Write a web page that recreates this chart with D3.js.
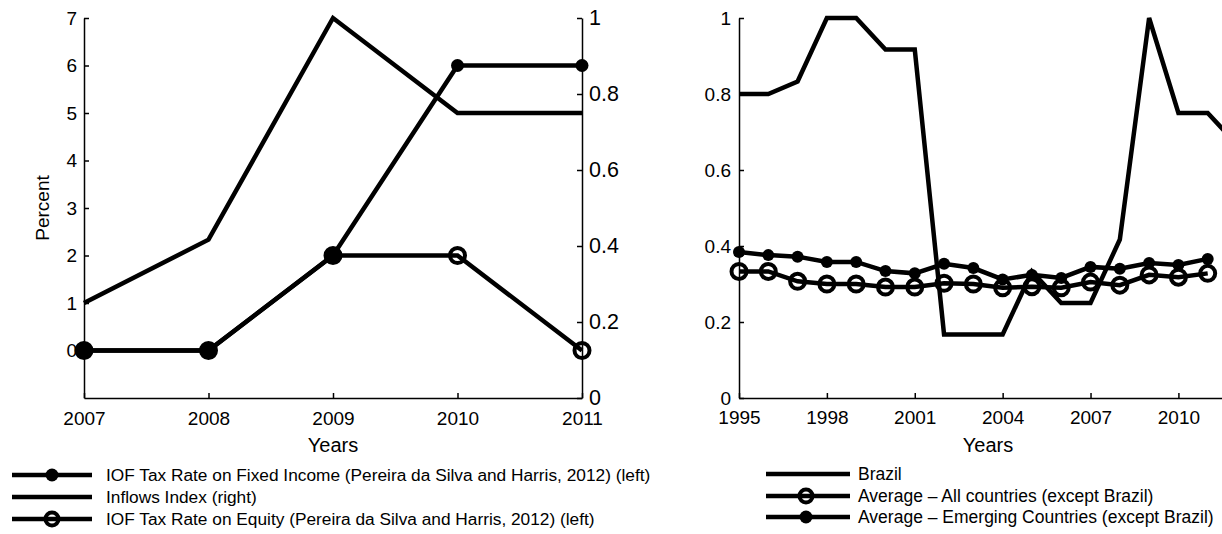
<!DOCTYPE html>
<html><head><meta charset="utf-8">
<script src="https://cdn.jsdelivr.net/npm/d3@7"></script>
<style>
body{margin:0;background:#fff;}
svg{display:block;font-family:"Liberation Sans",Arial,Helvetica,sans-serif;}
</style></head>
<body>
<svg id="chart" width="1222" height="534"></svg>
<script>
// ---- Left panel data ----
const leftYears = [2007, 2008, 2009, 2010, 2011];
const fixedIncome = [0, 0, 2, 6, 6];          // percent (left)
const inflowsIndex = [0.25, 0.4167, 1, 0.75, 0.75]; // index (right)
const equity = [0, 0, 2, 2, 0];               // percent (left)
const leftYTicks = [0, 1, 2, 3, 4, 5, 6, 7];
const rightYTicks = [0, 0.2, 0.4, 0.6, 0.8, 1];
const leftLegend = [
  "IOF Tax Rate on Fixed Income (Pereira da Silva and Harris, 2012) (left)",
  "Inflows Index (right)",
  "IOF Tax Rate on Equity (Pereira da Silva and Harris, 2012) (left)"
];

// ---- Right panel data ----
const brazilYears = [1995,1996,1997,1998,1999,2000,2001,2002,2003,2004,2005,2006,2007,2008,2009,2010,2011,2012];
const brazil = [0.8,0.8,0.833,1,1,0.917,0.917,0.167,0.167,0.167,0.333,0.25,0.25,0.417,1,0.75,0.75,0.667];
const avgYears = [1995,1996,1997,1998,1999,2000,2001,2002,2003,2004,2005,2006,2007,2008,2009,2010,2011];
const avgAll = [0.333,0.333,0.307,0.300,0.300,0.292,0.292,0.302,0.300,0.290,0.293,0.290,0.305,0.297,0.324,0.318,0.328];
const avgEmerging = [0.384,0.376,0.372,0.358,0.358,0.334,0.328,0.353,0.342,0.312,0.324,0.316,0.345,0.340,0.355,0.350,0.366];
const rightXTicks = [1995, 1998, 2001, 2004, 2007, 2010];
const rightPanelYTicks = [0, 0.2, 0.4, 0.6, 0.8, 1];
const rightLegend = [
  "Brazil",
  "Average \u2013 All countries (except Brazil)",
  "Average \u2013 Emerging Countries (except Brazil)"
];

const svg = d3.select("#chart");
const LW = 4.5;
const tickFont = 19;

function styleAxis(g, size) {
  g.selectAll("path.domain").attr("stroke", "#000").attr("stroke-width", 1.5);
  g.selectAll(".tick line").attr("stroke", "#000").attr("stroke-width", 1.5);
  g.selectAll(".tick text").attr("fill", "#000").style("font-size", size + "px")
    .style("font-family", '"Liberation Sans",Arial,sans-serif');
}

// ===== Left panel =====
const lx = d3.scaleLinear().domain([2007, 2011]).range([84, 582]);
const ly = d3.scaleLinear().domain([-1, 7]).range([398, 18]);
const ry = d3.scaleLinear().domain([0, 1]).range([398, 18]);

const gL = svg.append("g");
gL.append("g").attr("transform", "translate(0,398)")
  .call(d3.axisBottom(lx).tickValues(leftYears).tickFormat(d3.format("d")).tickSizeInner(-5).tickSizeOuter(0).tickPadding(14))
  .call(g => styleAxis(g, tickFont));
gL.append("g").attr("transform", "translate(84,0)")
  .call(d3.axisLeft(ly).tickValues(leftYTicks).tickFormat(d3.format("d")).tickSizeInner(-5).tickSizeOuter(0).tickPadding(7))
  .call(g => styleAxis(g, tickFont));
gL.append("g").attr("transform", "translate(582,0)")
  .call(d3.axisRight(ry).tickValues(rightYTicks).tickFormat(d => d === 0 || d === 1 ? String(d) : d3.format(".1f")(d)).tickSizeInner(-5).tickSizeOuter(0).tickPadding(7))
  .call(g => styleAxis(g, 21.5));

gL.append("text").attr("x", 333).attr("y", 452).attr("text-anchor", "middle")
  .style("font-size", "20px").text("Years");
gL.append("text").attr("transform", "translate(49,208) rotate(-90)").attr("text-anchor", "middle")
  .style("font-size", "19px").text("Percent");

const lineL = d3.line().x((d, i) => lx(leftYears[i])).y(d => ly(d));
const lineR = d3.line().x((d, i) => lx(leftYears[i])).y(d => ry(d));

gL.append("path").datum(fixedIncome).attr("d", lineL).attr("fill", "none").attr("stroke", "#000").attr("stroke-width", LW).attr("stroke-linejoin", "miter");
gL.selectAll("circle.fi").data(fixedIncome).join("circle").attr("class", "fi")
  .attr("cx", (d, i) => lx(leftYears[i])).attr("cy", d => ly(d)).attr("r", 6.5).attr("fill", "#000");
gL.append("path").datum(inflowsIndex).attr("d", lineR).attr("fill", "none").attr("stroke", "#000").attr("stroke-width", LW);
gL.append("path").datum(equity).attr("d", lineL).attr("fill", "none").attr("stroke", "#000").attr("stroke-width", LW);
gL.selectAll("circle.eq").data(equity).join("circle").attr("class", "eq")
  .attr("cx", (d, i) => lx(leftYears[i])).attr("cy", d => ly(d)).attr("r", 7.5).attr("fill", "none").attr("stroke", "#000").attr("stroke-width", 4);

// left legend
const legL = svg.append("g");
const legLRows = [475, 497, 519];
leftLegend.forEach((t, i) => {
  const y = legLRows[i];
  legL.append("line").attr("x1", 12).attr("x2", 92).attr("y1", y).attr("y2", y).attr("stroke", "#000").attr("stroke-width", LW);
  if (i === 0) legL.append("circle").attr("cx", 52).attr("cy", y).attr("r", 6.5).attr("fill", "#000");
  if (i === 2) legL.append("circle").attr("cx", 52).attr("cy", y).attr("r", 6.5).attr("fill", "none").attr("stroke", "#000").attr("stroke-width", 4);
  legL.append("text").attr("x", 106).attr("y", y).attr("dy", "0.35em").style("font-size", "17.3px").text(t);
});

// ===== Right panel =====
const clip = svg.append("defs").append("clipPath").attr("id", "clipR");
clip.append("rect").attr("x", 600).attr("y", 0).attr("width", 622).attr("height", 534);

const x2 = d3.scaleLinear().domain([1995, 2012]).range([739, 1237]);
const y2 = d3.scaleLinear().domain([0, 1]).range([398, 18]);
const gR = svg.append("g").attr("clip-path", "url(#clipR)");

gR.append("g").attr("transform", "translate(0,398)")
  .call(d3.axisBottom(x2).tickValues(rightXTicks).tickFormat(d3.format("d")).tickSizeInner(-5).tickSizeOuter(0).tickPadding(13))
  .call(g => styleAxis(g, tickFont));
gR.append("g").attr("transform", "translate(739,0)")
  .call(d3.axisLeft(y2).tickValues(rightPanelYTicks).tickFormat(d => d === 0 || d === 1 ? String(d) : d3.format(".1f")(d)).tickSizeInner(-5).tickSizeOuter(0).tickPadding(8))
  .call(g => styleAxis(g, tickFont));
gR.append("text").attr("x", (739 + 1237) / 2).attr("y", 452).attr("text-anchor", "middle")
  .style("font-size", "20px").text("Years");

const lineB = d3.line().x((d, i) => x2(brazilYears[i])).y(d => y2(d));
const lineA = d3.line().x((d, i) => x2(avgYears[i])).y(d => y2(d));
gR.append("path").datum(brazil).attr("d", lineB).attr("fill", "none").attr("stroke", "#000").attr("stroke-width", LW);
gR.append("path").datum(avgAll).attr("d", lineA).attr("fill", "none").attr("stroke", "#000").attr("stroke-width", LW);
gR.selectAll("circle.all").data(avgAll).join("circle").attr("class", "all")
  .attr("cx", (d, i) => x2(avgYears[i])).attr("cy", d => y2(d)).attr("r", 7.5).attr("fill", "none").attr("stroke", "#000").attr("stroke-width", 4);
gR.append("path").datum(avgEmerging).attr("d", lineA).attr("fill", "none").attr("stroke", "#000").attr("stroke-width", LW);
gR.selectAll("circle.em").data(avgEmerging).join("circle").attr("class", "em")
  .attr("cx", (d, i) => x2(avgYears[i])).attr("cy", d => y2(d)).attr("r", 6).attr("fill", "#000");

// right legend
const legR = svg.append("g");
const legRRows = [474, 496, 517];
rightLegend.forEach((t, i) => {
  const y = legRRows[i];
  legR.append("line").attr("x1", 766).attr("x2", 850).attr("y1", y).attr("y2", y).attr("stroke", "#000").attr("stroke-width", LW);
  if (i === 1) legR.append("circle").attr("cx", 806).attr("cy", y).attr("r", 6.5).attr("fill", "none").attr("stroke", "#000").attr("stroke-width", 4);
  if (i === 2) legR.append("circle").attr("cx", 806).attr("cy", y).attr("r", 6.5).attr("fill", "#000");
  legR.append("text").attr("x", 858).attr("y", y).attr("dy", "0.35em").style("font-size", "17.5px").text(t);
});
</script>
</body></html>
